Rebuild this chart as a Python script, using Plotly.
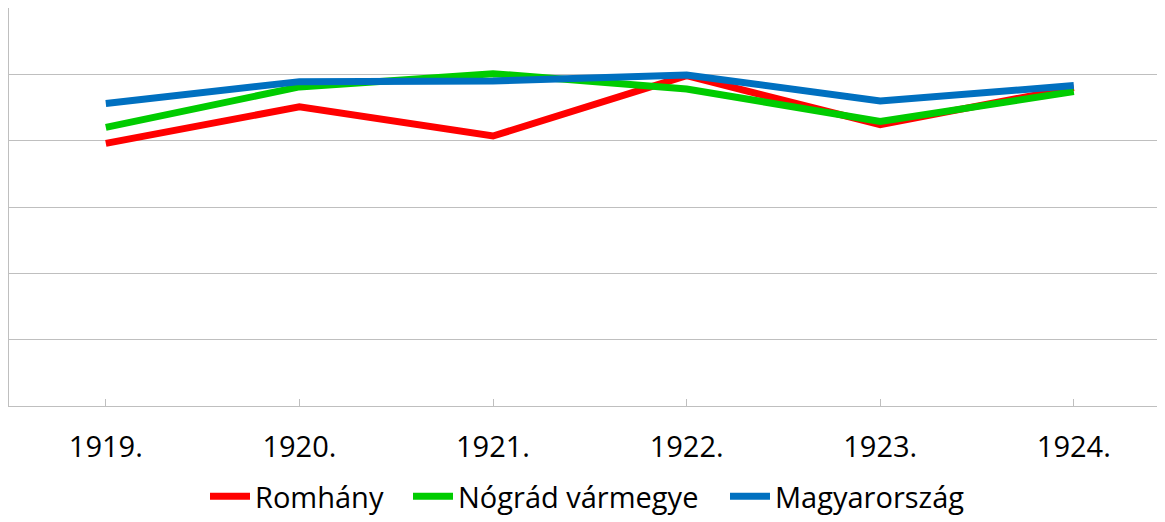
import plotly.graph_objects as go

years = ["1919.", "1920.", "1921.", "1922.", "1923.", "1924."]
romhany = [39.6, 45.1, 40.7, 49.8, 42.4, 48.0]
nograd = [42.0, 48.1, 50.1, 47.8, 42.9, 47.4]
magyarorszag = [45.6, 48.9, 49.0, 49.9, 46.0, 48.3]

series = [
    ("Romhány", romhany, "#ff0000", "legend"),
    ("Nógrád vármegye", nograd, "#00cc00", "legend2"),
    ("Magyarország", magyarorszag, "#0070c0", "legend3"),
]

fig = go.Figure()
for name, vals, col, lg in series:
    fig.add_trace(go.Scatter(
        x=list(range(len(years))), y=vals, name=name, mode="lines",
        line=dict(color=col, width=7), legend=lg,
    ))

# page body has an 8px margin; figure sized to the visible area
W, H = 1157, 514
plot_left, plot_w = 1, 1156
plot_top, plot_bottom = 0, 398
leg_px = [197, 400, 717]

def leg(px):
    return dict(orientation="h", x=(px - plot_left) / plot_w, xanchor="left",
                y=-(H - plot_bottom) / (plot_bottom - plot_top), yanchor="bottom",
                font=dict(size=29), itemwidth=40, bgcolor="rgba(0,0,0,0)",
                borderwidth=0)

fig.update_layout(
    width=W, height=H,
    margin=dict(l=plot_left, r=W - plot_left - plot_w, t=plot_top, b=H - plot_bottom,
                autoexpand=False),
    paper_bgcolor="white", plot_bgcolor="white",
    font=dict(family="Open Sans, sans-serif", size=29, color="#000000"),
    showlegend=True,
    legend=leg(leg_px[0]), legend2=leg(leg_px[1]), legend3=leg(leg_px[2]),
    xaxis=dict(
        range=[-0.5, 5.471], tickmode="array", tickvals=list(range(len(years))),
        ticktext=years, showgrid=False, zeroline=False,
        showline=True, linecolor="#bfbfbf", linewidth=1,
        ticks="inside", ticklen=7, tickcolor="#bfbfbf",
        ticklabelstandoff=15, fixedrange=True, automargin=False,
    ),
    yaxis=dict(
        range=[0, 60], dtick=10, showgrid=True, gridcolor="#bfbfbf", gridwidth=1,
        showticklabels=False, zeroline=False, showline=True, linecolor="#bfbfbf",
        linewidth=1, fixedrange=True, automargin=False,
    ),
)

fig.write_html("out.html")
